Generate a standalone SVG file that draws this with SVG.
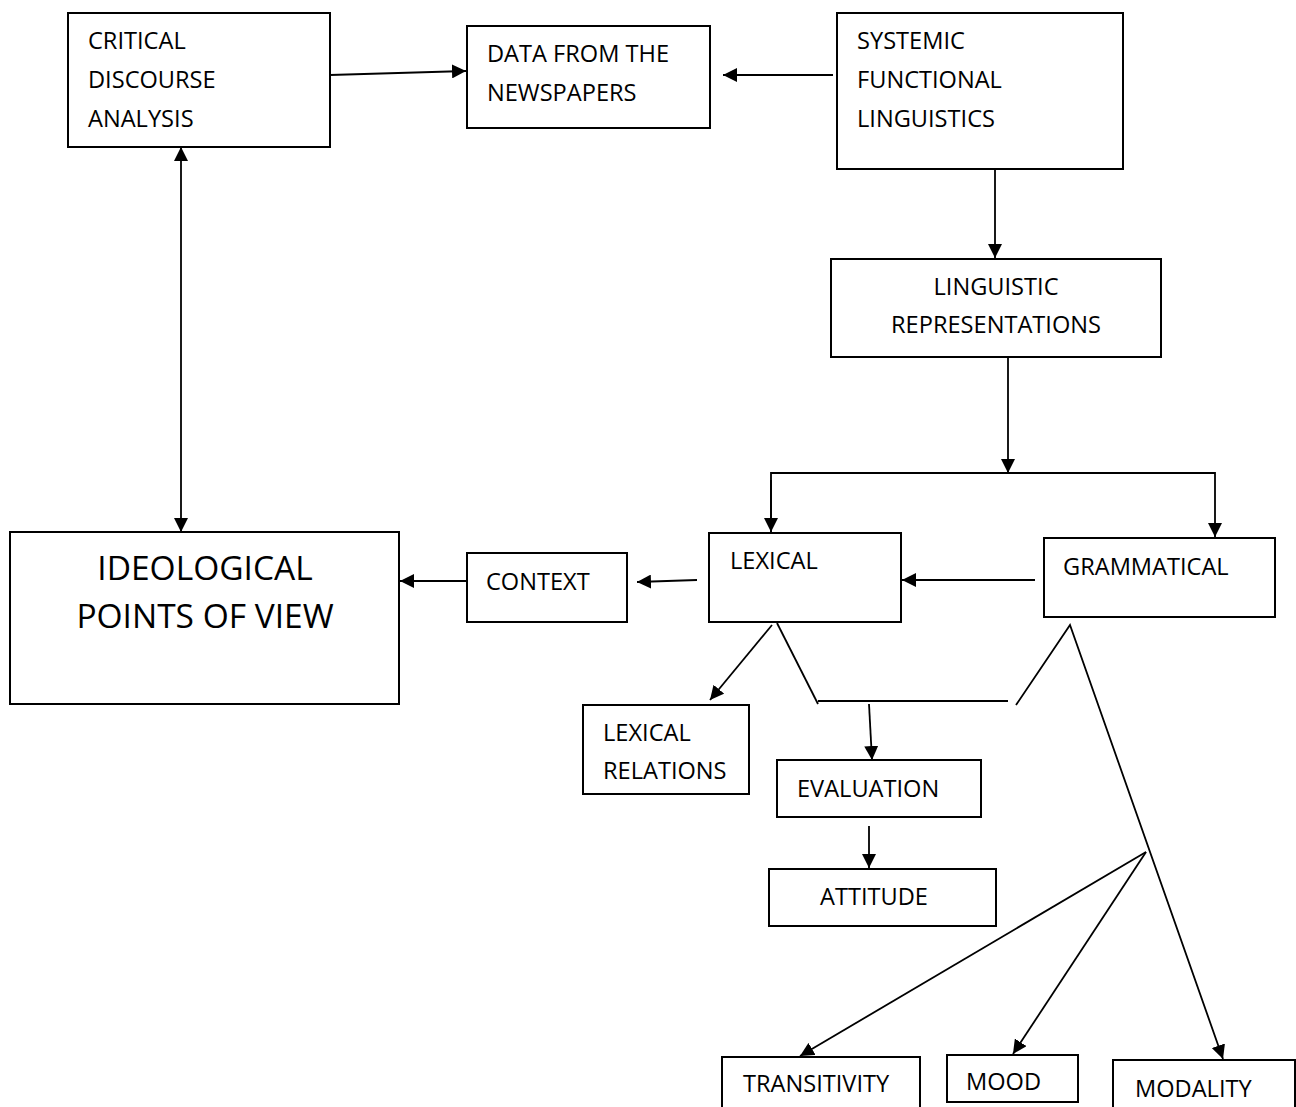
<svg xmlns="http://www.w3.org/2000/svg" width="1296" height="1107" viewBox="0 0 1296 1107">
  <style>
    .box { fill: #ffffff; stroke: #000000; stroke-width: 2; }
    .lbl { font-family: "Open Sans", "Liberation Sans", sans-serif; font-size: 23.6px; fill: #000000; }
    .big { font-family: "Open Sans", "Liberation Sans", sans-serif; font-size: 33.5px; fill: #000000; }
    .ln { fill: none; stroke: #000000; stroke-width: 1.8; }
    .arr { marker-end: url(#head); }
  </style>
  <defs>
    <marker id="head" viewBox="0 0 14 14" refX="14" refY="7" markerWidth="14" markerHeight="14" markerUnits="userSpaceOnUse" orient="auto-start-reverse">
      <path d="M0,0 L14,7 L0,14 z" fill="#000000"/>
    </marker>
  </defs>
  <rect width="1296" height="1107" fill="#ffffff"/>

  <!-- nodes -->
  <g id="cda">
    <rect class="box" x="68" y="13" width="262" height="134"/>
    <text class="lbl" x="88" y="49">CRITICAL</text>
    <text class="lbl" x="88" y="88">DISCOURSE</text>
    <text class="lbl" x="88" y="127">ANALYSIS</text>
  </g>
  <g id="data">
    <rect class="box" x="467" y="26" width="243" height="102"/>
    <text class="lbl" x="487" y="62">DATA FROM THE</text>
    <text class="lbl" x="487" y="101">NEWSPAPERS</text>
  </g>
  <g id="sfl">
    <rect class="box" x="837" y="13" width="286" height="156"/>
    <text class="lbl" x="857" y="49">SYSTEMIC</text>
    <text class="lbl" x="857" y="88">FUNCTIONAL</text>
    <text class="lbl" x="857" y="127">LINGUISTICS</text>
  </g>
  <g id="ling">
    <rect class="box" x="831" y="259" width="330" height="98"/>
    <text class="lbl" x="996" y="295" text-anchor="middle">LINGUISTIC</text>
    <text class="lbl" x="996" y="333" text-anchor="middle">REPRESENTATIONS</text>
  </g>
  <g id="ideo">
    <rect class="box" x="10" y="532" width="389" height="172"/>
    <text class="big" x="205" y="580" text-anchor="middle">IDEOLOGICAL</text>
    <text class="big" x="205" y="628" text-anchor="middle">POINTS OF VIEW</text>
  </g>
  <g id="context">
    <rect class="box" x="467" y="553" width="160" height="69"/>
    <text class="lbl" x="486" y="590">CONTEXT</text>
  </g>
  <g id="lexical">
    <rect class="box" x="709" y="533" width="192" height="89"/>
    <text class="lbl" x="730" y="569">LEXICAL</text>
  </g>
  <g id="grammatical">
    <rect class="box" x="1044" y="538" width="231" height="79"/>
    <text class="lbl" x="1063" y="575">GRAMMATICAL</text>
  </g>
  <g id="lexrel">
    <rect class="box" x="583" y="705" width="166" height="89"/>
    <text class="lbl" x="603" y="741">LEXICAL</text>
    <text class="lbl" x="603" y="779">RELATIONS</text>
  </g>
  <g id="evaluation">
    <rect class="box" x="777" y="760" width="204" height="57"/>
    <text class="lbl" x="797" y="797">EVALUATION</text>
  </g>
  <g id="attitude">
    <rect class="box" x="769" y="869" width="227" height="57"/>
    <text class="lbl" x="820" y="905">ATTITUDE</text>
  </g>
  <g id="transitivity">
    <rect class="box" x="722" y="1057" width="198" height="60"/>
    <text class="lbl" x="743" y="1092">TRANSITIVITY</text>
  </g>
  <g id="mood">
    <rect class="box" x="947" y="1055" width="131" height="47"/>
    <text class="lbl" x="966" y="1090">MOOD</text>
  </g>
  <g id="modality">
    <rect class="box" x="1113" y="1060" width="182" height="60"/>
    <text class="lbl" x="1135" y="1097">MODALITY</text>
  </g>

  <!-- connectors -->
  <g id="connectors">
    <line class="ln arr" x1="330" y1="75" x2="466" y2="71"/>
    <line class="ln arr" x1="833" y1="75" x2="723" y2="75"/>
    <line class="ln" x1="181" y1="147" x2="181" y2="532" marker-start="url(#head)" marker-end="url(#head)"/>
    <line class="ln arr" x1="995" y1="169" x2="995" y2="258"/>
    <line class="ln arr" x1="1008" y1="357" x2="1008" y2="473"/>
    <polyline class="ln arr" points="771,532 771,473 1215,473 1215,537"/>
    <line class="ln arr" x1="771" y1="480" x2="771" y2="532"/>
    <line class="ln arr" x1="1035" y1="580" x2="902" y2="580"/>
    <line class="ln arr" x1="697" y1="580" x2="637" y2="582"/>
    <line class="ln arr" x1="466" y1="581" x2="400" y2="581"/>
    <line class="ln arr" x1="772" y1="625" x2="710" y2="700"/>
    <polyline class="ln" points="777,623 818,704"/>
    <line class="ln" x1="818" y1="701" x2="1008" y2="701"/>
    <polyline class="ln arr" points="1016,705 1070,625 1223,1059"/>
    <line class="ln arr" x1="869" y1="704" x2="872" y2="760"/>
    <line class="ln arr" x1="869" y1="826" x2="869" y2="868"/>
    <line class="ln arr" x1="1146" y1="852" x2="800" y2="1056"/>
    <line class="ln arr" x1="1146" y1="852" x2="1013" y2="1054"/>
  </g>
</svg>
